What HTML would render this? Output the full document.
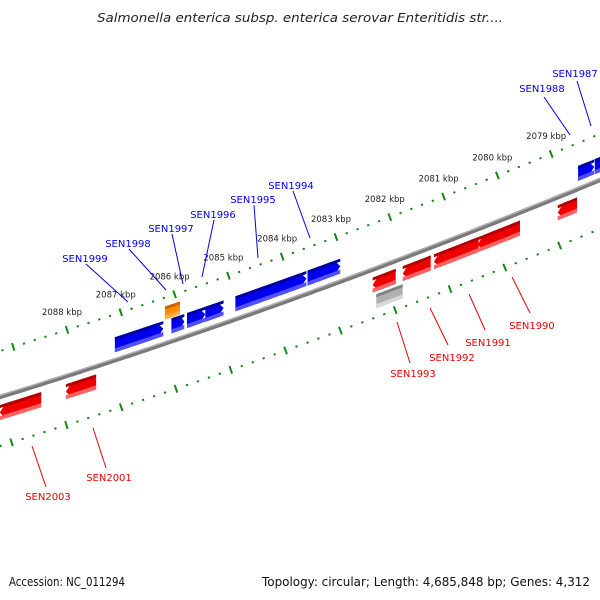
<!DOCTYPE html>
<html><head><meta charset="utf-8"><style>
html,body{margin:0;padding:0;background:#fff;}
svg{display:block;}
text{font-family:"DejaVu Sans","Liberation Sans",sans-serif;}
</style></head><body>
<svg id="map" width="600" height="600" viewBox="0 0 600 600" xmlns="http://www.w3.org/2000/svg">
<rect x="0" y="0" width="600" height="600" fill="#fff"/>
<text x="300" y="22" text-anchor="middle" font-size="12" font-style="italic" fill="#222" textLength="406" lengthAdjust="spacingAndGlyphs">Salmonella enterica subsp. enterica serovar Enteritidis str....</text>
<g id="ticks-upper"></g>
<g id="ticks-lower"></g>
<g id="backbone"></g>
<g id="genes"></g>
<g id="labels"></g>
<text x="9" y="586" font-size="12" fill="#111" textLength="116" lengthAdjust="spacingAndGlyphs">Accession: NC_011294</text>
<text x="262" y="586" font-size="12" fill="#111" textLength="328" lengthAdjust="spacingAndGlyphs">Topology: circular; Length: 4,685,848 bp; Genes: 4,312</text>
</svg>
<script>
// tick data (kbp)
const tickKbp = [2090,2089,2088,2087,2086,2085,2084,2083,2082,2081,2080,2079,2078];
const tickLabels = ["2088 kbp","2087 kbp","2086 kbp","2085 kbp","2084 kbp","2083 kbp","2082 kbp","2081 kbp","2080 kbp","2079 kbp"];
const labelKbp = [2088,2087,2086,2085,2084,2083,2082,2081,2080,2079];
// genes: start/end kbp, strand, type
const geneStart = [2087.11,2086.06,2085.77,2085.43,2084.87,2083.53,2078.50,2078.19, 2089.25,2088.02,2082.32,2081.76,2081.18,2080.37,2078.88, 2086.18, 2082.25];
const geneEnd   = [2086.21,2085.82,2085.43,2085.09,2083.55,2082.92,2078.20,2077.80, 2088.48,2087.46,2081.89,2081.24,2080.35,2079.58,2078.52, 2085.90, 2081.76];
const geneStrand= [1,1,1,1,1,1,1,1, -1,-1,-1,-1,-1,-1,-1, 0,0];
const geneType  = ["cds","cds","cds","cds","cds","cds","cds","cds","cds","cds","cds","cds","cds","cds","cds","rna","pseudo"];
const geneNames = ["SEN1999-gene","SEN1998-gene","SEN1997-gene","SEN1996-gene","SEN1995-gene","SEN1994-gene","SEN1988-gene","SEN1987-gene","SEN2003-gene","SEN2001-gene","SEN1993-gene","SEN1992-gene","SEN1991-gene","SEN1990-gene","SEN1989-gene","orange-feature","grey-feature"];

const NS="http://www.w3.org/2000/svg";
function X(k){return 67+(2088-k)*53.8;}
function XL(k){return 39+(2088.5-k)*54.8;}
function yb(x){return 397-0.3097*x-8.67e-5*x*x;}
function slope(x){return -0.3097-1.734e-4*x;}
function P(x,d){return [x, yb(x)+d];}
function mk(tag,attrs,parent){const e=document.createElementNS(NS,tag);for(const k in attrs)e.setAttribute(k,attrs[k]);parent.appendChild(e);return e;}

// backbone
const bb=document.getElementById('backbone');
let pts=[];for(let x=-10;x<=610;x+=5)pts.push(x+","+yb(x).toFixed(1));
let pth=mk('polyline',{points:pts.join(' '),fill:'none',stroke:'#7a7a7a','stroke-width':4.5},bb);


let pts2=[];for(let x=-10;x<=610;x+=5)pts2.push(x+","+(yb(x)-1.6).toFixed(1));
let hl=mk('polyline',{points:pts2.join(' '),fill:'none',stroke:'#b5b5b5','stroke-width':1.2},bb);



function tickMark(g,x,d,major,name){
  const s=slope(x),n=Math.hypot(1,s),nx=-s/n,ny=1/n;
  const [px,py]=P(x,d);const L=major?4:1;
  const t=mk('line',{x1:(px-nx*L).toFixed(1),y1:(py-ny*L).toFixed(1),x2:(px+nx*L).toFixed(1),y2:(py+ny*L).toFixed(1),stroke:'#138a13','stroke-width':major?2:2.2},g);
  
  
}
const tu=document.getElementById('ticks-upper'),tl=document.getElementById('ticks-lower');
for(const k of tickKbp){
  for(let j=0;j<5;j++){
    const kk=k-j*0.2;
    const x=X(kk); if(x>-5&&x<605) tickMark(tu,x,-46,j===0,j===0?'major-tick':'minor-tick');
    const xl=XL(kk); if(xl>-5&&xl<605) tickMark(tl,xl,49,j===0,j===0?'major-tick':'minor-tick');
  }
}
labelKbp.forEach((k,i)=>{
  const x=X(k);const [px,py]=P(x,-46);
  const t=mk('text',{x:(px-5).toFixed(1),y:(py-15).toFixed(1),'text-anchor':'middle','font-size':8.5,fill:'#222'},tu);
  t.textContent=tickLabels[i];
  
  
});

// genes
const gg=document.getElementById('genes');
function band(x1,x2,d1,d2,tipDir,tipLen){
  // polygon from x1..x2 between offsets d1 (outer edge) and d2
  const a=[],b=[];const N=12;
  let bx1=x1,bx2=x2;
  if(tipDir>0)bx2=x2-tipLen; if(tipDir<0)bx1=x1+tipLen;
  for(let i=0;i<=N;i++){const x=bx1+(bx2-bx1)*i/N;a.push(P(x,d1));b.push(P(x,d2));}
  let poly=a.slice();
  if(tipDir>0)poly.push(P(x2,(d1+d2)/2));
  poly=poly.concat(b.reverse());
  if(tipDir<0)poly.push(P(x1,(d1+d2)/2));
  return poly.map(p=>p[0].toFixed(1)+","+p[1].toFixed(1)).join(' ');
}
geneStart.forEach((ks,i)=>{
  const x1=X(ks),x2=X(geneEnd[i]);
  const g=mk('g',{},gg);
  
  
  let d1,d2,c,cd,cl,dir;
  if(geneType[i]==='rna'){d1=-37;d2=-24;c='#ff8c00';cd='#c86400';cl='#ffb040';dir=0;}
  else if(geneType[i]==='pseudo'){d1=26;d2=40;c='#b0b0b0';cd='#808080';cl='#d8d8d8';dir=0;}
  else if(geneStrand[i]>0){d1=-23;d2=-8;c='#0000ee';cd='#0000a0';cl='#5050ff';dir=1;}
  else{d1=8;d2=23;c='#ee0000';cd='#b00000';cl='#ff6060';dir=-1;}
  const tip=Math.min(6,(x2-x1)*0.35);
  mk('polygon',{points:band(x1,x2,d1,d2,dir,tip),fill:c},g);
  mk('polygon',{points:band(x1,x2,d1,d1+3,0,0),fill:cd},g);
  mk('polygon',{points:band(x1,x2,d2-4,d2,0,0),fill:cl},g);
});
</script>
<g></g>
<svg width="0" height="0"></svg>
<script>
const lbl=document.getElementById('labels');
const NS2="http://www.w3.org/2000/svg";
</script>
<div style="display:none"></div>
<script>
// gene label annotations (name, text x, text y, line from, line to)
const labelNames=["SEN1999","SEN1998","SEN1997","SEN1996","SEN1995","SEN1994","SEN1988","SEN1987","SEN2003","SEN2001","SEN1993","SEN1992","SEN1991","SEN1990"];
const labelColor=["#0000ee","#0000ee","#0000ee","#0000ee","#0000ee","#0000ee","#0000ee","#0000ee","#ee0000","#ee0000","#ee0000","#ee0000","#ee0000","#ee0000"];
const lt=[[85,262],[128,247],[171,232],[213,218],[253,203],[291,189],[542,92],[575,77],[48,500],[109,481],[413,377],[452,361],[488,346],[532,329]];
const ll=[[86,264,128,302],[129,249,166,290],[172,234,183,284],[214,220,202,277],[254,205,258,258],[293,191,310,238],[544,97,570,135],[577,81,591,126],[32,446,46,487],[93,428,106,468],[397,322,410,363],[430,308,448,345],[469,294,485,330],[512,277,530,313]];
labelNames.forEach((n,i)=>{
  const ln=document.createElementNS(NS2,'line');
  ln.setAttribute('x1',ll[i][0]);ln.setAttribute('y1',ll[i][1]);ln.setAttribute('x2',ll[i][2]);ln.setAttribute('y2',ll[i][3]);
  ln.setAttribute('stroke',labelColor[i]);ln.setAttribute('stroke-width','1');
  
  
  lbl.appendChild(ln);
  const t=document.createElementNS(NS2,'text');
  t.setAttribute('x',lt[i][0]);t.setAttribute('y',lt[i][1]);t.setAttribute('text-anchor','middle');
  t.setAttribute('font-size','10');t.setAttribute('fill',labelColor[i]);
  t.textContent=n;
  
  
  lbl.appendChild(t);
});
</script>
</body></html>
